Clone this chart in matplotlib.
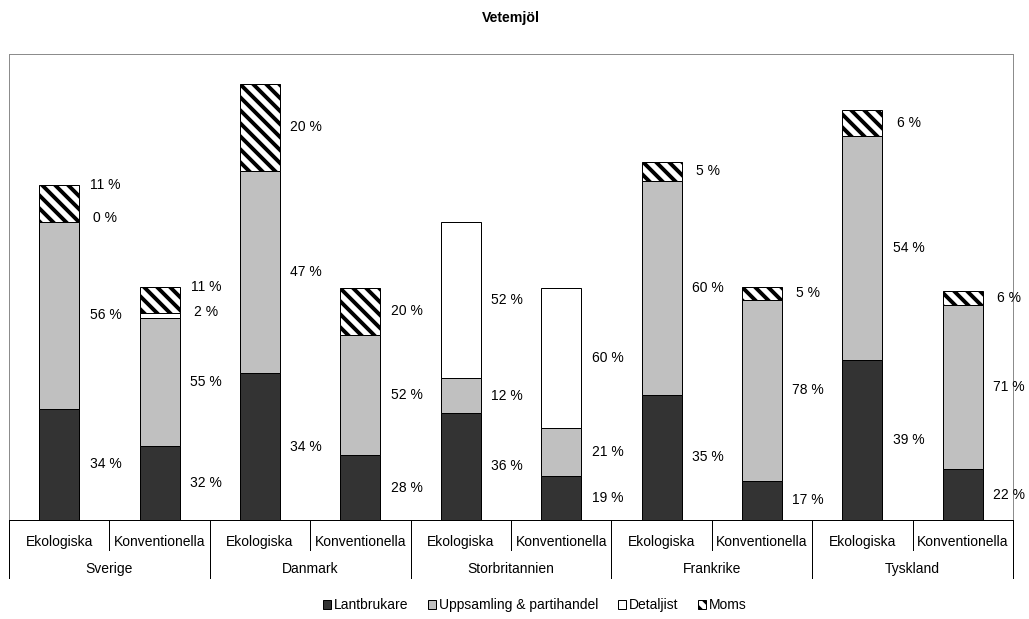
import matplotlib
matplotlib.use("Agg")
import matplotlib.pyplot as plt
from matplotlib.patches import Patch
import numpy as np

plt.rcParams['font.family'] = ['Liberation Sans', 'DejaVu Sans']
plt.rcParams['hatch.linewidth'] = 3.6

# ---- data ----
countries = ["Sverige", "Danmark", "Storbritannien", "Frankrike", "Tyskland"]
types = ["Ekologiska", "Konventionella"]
series_names = ["Lantbrukare", "Uppsamling & partihandel", "Detaljist", "Moms"]

lantbrukare = [2.39, 1.59, 3.15, 1.39, 2.30, 0.94, 2.69, 0.84, 3.44, 1.09]
uppsamling  = [4.00, 2.75, 4.35, 2.59, 0.74, 1.04, 4.59, 3.89, 4.79, 3.53]
detaljist   = [0.00, 0.10, 0.00, 0.00, 3.35, 3.00, 0.00, 0.00, 0.00, 0.00]
moms        = [0.80, 0.56, 1.85, 1.00, 0.00, 0.00, 0.40, 0.27, 0.56, 0.30]

pct_lantbrukare = ["34 %", "32 %", "34 %", "28 %", "36 %", "19 %", "35 %", "17 %", "39 %", "22 %"]
pct_uppsamling  = ["56 %", "55 %", "47 %", "52 %", "12 %", "21 %", "60 %", "78 %", "54 %", "71 %"]
pct_detaljist   = ["0 %", "2 %", None, None, "52 %", "60 %", None, None, None, None]
pct_moms        = ["11 %", "11 %", "20 %", "20 %", None, None, "5 %", "5 %", "6 %", "6 %"]

# ---- figure ----
DPI = 78
fig = plt.figure(figsize=(1029 / DPI, 619 / DPI), dpi=DPI)
ax = fig.add_axes([9 / 1029, (619 - 520) / 619, 1004 / 1029, 466 / 619])

n = len(lantbrukare)
x = np.arange(n)
w = 0.4
FS = 12.8
lw_px = 72 / DPI

series = [lantbrukare, uppsamling, detaljist, moms]
pcts = [pct_lantbrukare, pct_uppsamling, pct_detaljist, pct_moms]
colors = ["#333333", "#c0c0c0", "#ffffff", "#ffffff"]
hatches = [None, None, None, "\\\\"]

bottom = np.zeros(n)
for vals, col, h in zip(series, colors, hatches):
    vals = np.array(vals)
    mask = vals > 0
    ax.bar(x[mask], vals[mask], w, bottom=bottom[mask], color=col,
           edgecolor="black", linewidth=1.0 * lw_px, hatch=h, zorder=2)
    bottom = bottom + vals

# ---- labels ----
bottom = np.zeros(n)
totals = np.sum(series, axis=0)
for si, (vals, labs) in enumerate(zip(series, pcts)):
    for i in range(n):
        lab = labs[i]
        if lab is not None:
            yc = bottom[i] + vals[i] / 2
            if si == 3 and pct_detaljist[i] is not None:
                yc = totals[i]
            elif si == 2 and pct_moms[i] is not None:
                yc = bottom[i] + vals[i] / 2 + 0.08
            ax.text(x[i] + 0.46, yc, lab, ha="center", va="center",
                    fontsize=FS, color="black")
    bottom = bottom + np.array(vals)

ax.set_xlim(-0.5, n - 0.5)
ax.set_ylim(0, 10)
ax.set_xticks([])
ax.set_yticks([])
for s in ["left", "top", "right"]:
    ax.spines[s].set_color("#8c8c8c")
    ax.spines[s].set_linewidth(1.0 * lw_px)
ax.spines["bottom"].set_color("black")
ax.spines["bottom"].set_linewidth(1.0 * lw_px)

# ---- two-level category axis ----
trans = ax.get_xaxis_transform()
sub_y = -30 / 466
grp_y = -58 / 466
for i in range(n):
    ax.text(x[i], -21.7 / 466, types[i % 2], transform=trans, ha="center",
            va="center", fontsize=FS)
for j in range(n + 1):
    xb = j - 0.5
    yend = grp_y if j % 2 == 0 else sub_y
    ax.plot([xb, xb], [0, yend], transform=trans, color="black",
            linewidth=1.0 * lw_px, clip_on=False)
for g, c in enumerate(countries):
    ax.text(2 * g + 0.5, -49 / 466, c, transform=trans, ha="center",
            va="center", fontsize=FS)

# ---- title ----
fig.text(511 / 1029, 1 - 18 / 619, "Vetemjöl", ha="center", va="center",
         fontsize=13, fontweight="bold")

# ---- legend ----
handles = [Patch(facecolor=colors[k], edgecolor="black", hatch=hatches[k],
                 linewidth=lw_px) for k in range(4)]
fig.legend(handles, series_names, loc="center", ncol=4, frameon=False,
           bbox_to_anchor=(535 / 1029, 1 - 605 / 619), fontsize=FS,
           handlelength=0.6, handleheight=0.6, handletextpad=0.2,
           columnspacing=1.4, borderpad=0)

fig.savefig("out.png", dpi=DPI)
